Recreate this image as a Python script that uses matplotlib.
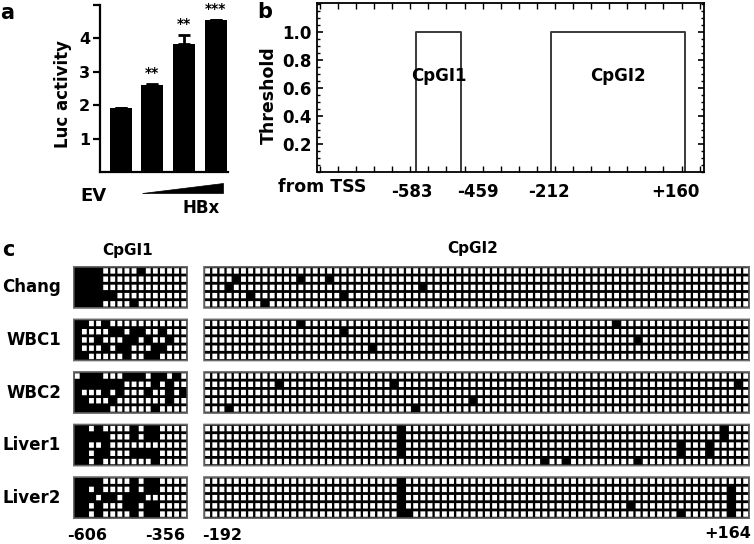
import matplotlib
matplotlib.use('Agg')
import matplotlib.pyplot as plt
from matplotlib.patches import Rectangle, Polygon
from matplotlib.ticker import MultipleLocator
from matplotlib.transforms import ScaledTranslation

plt.rcParams['font.family'] = ['DejaVu Sans']
plt.rcParams['font.weight'] = 'bold'

# ---------------- data ----------------
# panel a
bar_groups = ['EV', 'HBx low', 'HBx mid', 'HBx high']
luc_activity = [1.91, 2.60, 3.84, 4.55]
luc_err = [0.02, 0.02, 0.25, 0.0]
luc_sig = ['', '**', '**', '***']
luc_yticks = [1, 2, 3, 4, 5]
luc_yticklabels = ['1', '2', '3', '4', '']

# panel b
island_names = ['CpGI1', 'CpGI2']
island_start = [-583, -212]
island_end = [-459, 160]
island_threshold = [1.0, 1.0]
tss_ticks = [-583, -459, -212, 160]
tss_labels = ['-583', '-459', '-212', '+160']
thr_ticks = [0.2, 0.4, 0.6, 0.8, 1.0]

# panel c
samples = ['Chang', 'WBC1', 'WBC2', 'Liver1', 'Liver2']
cpgi1_ncols = 16
cpgi2_ncols = 76
cpgi1_patterns = [
    ["1111000001000000",
     "1111000000000000",
     "1111000000000000",
     "1111110000000000",
     "1111000010000000"],
    ["1100100000000000",
     "1000011011001000",
     "1001000110100100",
     "1000101100011000",
     "1100000100110000"],
    ["0111000111011010",
     "1111111000010100",
     "1000101000100101",
     "1100010000000100",
     "1111100000010000"],
    ["1101000010110000",
     "1111100010110000",
     "1100100000000000",
     "1101100011110000",
     "1101000000010000"],
    ["1111000010110000",
     "1101000010110000",
     "1110110111000000",
     "1101000110110000",
     "1101000010110000"],
]
# methylated (row, column) sites in CpGI2
cpgi2_sites = [
    [(1, 4), (2, 3), (3, 6), (4, 8), (1, 13), (1, 17), (3, 19), (2, 30)],
    [(0, 13), (1, 19), (3, 23), (0, 57), (2, 60)],
    [(1, 10), (4, 3), (1, 26), (4, 29), (3, 37), (1, 74)],
    [(0, 27), (1, 27), (2, 27), (3, 27), (0, 72), (1, 72), (2, 66), (3, 66),
     (2, 70), (3, 70), (4, 47), (4, 50), (4, 60)],
    [(0, 27), (1, 27), (2, 27), (3, 27), (4, 27), (4, 28), (3, 59), (4, 66),
     (1, 73), (2, 73), (3, 73), (4, 73)],
]
cpgi1_end_labels = ['-606', '-356']
cpgi2_end_labels = ['-192', '+164']

# ---------------- figure ----------------
W, H = 754, 544
fig = plt.figure(figsize=(W / 100, H / 100), dpi=100)


def fax(x0, y0, x1, y1):
    return fig.add_axes([x0 / W, 1 - y1 / H, (x1 - x0) / W, (y1 - y0) / H])


# ---- panel a ----
axa = fax(100, 5, 228, 172)
xpos = list(range(len(luc_activity)))
axa.bar(xpos, luc_activity, width=0.7, color='black')
axa.errorbar(xpos, luc_activity, yerr=[[0] * len(luc_err), luc_err], fmt='none',
             ecolor='black', elinewidth=2, capsize=4.5, capthick=2)
for x, v, e, s in zip(xpos, luc_activity, luc_err, luc_sig):
    if s:
        axa.annotate(s, (x, v + e), xytext=(0, 3), textcoords='offset points',
                     ha='center', va='bottom', fontsize=10)
axa.set_xlim(-0.65, 3.39)
axa.set_ylim(0, 5)
axa.set_yticks(luc_yticks)
axa.set_yticklabels(luc_yticklabels, fontsize=11.5, fontweight='bold')
axa.set_xticks([])
for sp in ['top', 'right']:
    axa.spines[sp].set_visible(False)
for sp in ['left', 'bottom']:
    axa.spines[sp].set_linewidth(1.6)
axa.tick_params(axis='y', direction='out', length=5, width=1.6, pad=2)
axa.set_ylabel('Luc activity', fontsize=12, fontweight='bold')
axa.yaxis.set_label_coords(-0.22, 0.47)

# ---- panel b ----
axb = fax(317, 3, 704, 172)
for s, e, t in zip(island_start, island_end, island_threshold):
    axb.plot([s, s, e, e], [0, t, t, 0], color='#3a3a3a', lw=1.4)
axb.set_xlim(-858, 212)
axb.set_ylim(0, 1.21)
axb.set_yticks(thr_ticks)
axb.set_yticklabels(['%.1f' % v for v in thr_ticks], fontsize=12, fontweight='bold')
axb.yaxis.set_minor_locator(MultipleLocator(0.05))
axb.set_xticks(tss_ticks)
axb.set_xticklabels(tss_labels, fontsize=12, fontweight='bold')
axb.xaxis.set_minor_locator(MultipleLocator(50))
axb.tick_params(axis='x', which='major', length=0, pad=8)
axb.tick_params(axis='x', which='minor', direction='in', length=4, width=1, top=True, bottom=True)
axb.tick_params(axis='y', which='major', direction='in', length=4, width=1.2, left=True, right=True, pad=4)
axb.tick_params(axis='y', which='minor', direction='in', length=2, width=1, left=True, right=True)
label_shift_px = [-5, 17, -2, -10]
for lab, dx in zip(axb.get_xticklabels(), label_shift_px):
    lab.set_transform(lab.get_transform() + ScaledTranslation(dx / 100, 0, fig.dpi_scale_trans))
for sp in axb.spines.values():
    sp.set_linewidth(1.3)
axb.set_ylabel('Threshold', fontsize=12.5, fontweight='bold')
axb.yaxis.set_label_coords(-0.10, 0.456)
for name, s, e in zip(island_names, island_start, island_end):
    axb.text((s + e) / 2, 0.685, name, ha='center', va='center', fontsize=12, fontweight='bold')

# ---- panel c ----
nrows = 5
period = 6.39
ytot = period * (len(samples) - 1) + nrows
fw, fh = 0.68, 0.66


def draw_grids(ax, matrices, ncols):
    for g, mat in enumerate(matrices):
        y0 = g * period
        ax.add_patch(Rectangle((0, y0), ncols, nrows, facecolor='black',
                               edgecolor='#6a6a6a', lw=1.2, snap=False))
        for r, row in enumerate(mat):
            for c, m in enumerate(row):
                if not m:
                    ax.add_patch(Rectangle((c + (1 - fw) / 2, y0 + r + (1 - fh) / 2), fw, fh,
                                           facecolor='white', edgecolor='none', snap=False))
    ax.set_xlim(-0.1, ncols + 0.1)
    ax.set_ylim(ytot + 0.1, -0.1)
    ax.axis('off')


m1 = [[[ch == '1' for ch in row] for row in rows] for rows in cpgi1_patterns]
m2 = []
for sites in cpgi2_sites:
    mat = [[False] * cpgi2_ncols for _ in range(nrows)]
    for r, c in sites:
        mat[r][c] = True
    m2.append(mat)

axc1 = fax(73, 266, 188, 519)
draw_grids(axc1, m1, cpgi1_ncols)
axc2 = fax(203.3, 266, 750, 519)
draw_grids(axc2, m2, cpgi2_ncols)

# ---- overlay text ----
ov = fig.add_axes([0, 0, 1, 1])
ov.set_xlim(0, W)
ov.set_ylim(H, 0)
ov.axis('off')
ov.patch.set_alpha(0)

ov.text(7, 13, 'a', fontsize=15, ha='center', va='center', fontweight='bold')
ov.text(265, 12, 'b', fontsize=15, ha='center', va='center', fontweight='bold')
ov.text(8, 250, 'c', fontsize=15, ha='center', va='center', fontweight='bold')

ov.text(93, 196, 'EV', fontsize=13, ha='center', va='center', fontweight='bold')
ov.text(201, 208, 'HBx', fontsize=12, ha='center', va='center', fontweight='bold')
ov.add_patch(Polygon([(142, 193), (223, 193), (223, 183)], closed=True,
                     facecolor='black', edgecolor='black', lw=0.5))

ov.text(322, 187, 'from TSS', fontsize=12.5, ha='center', va='center', fontweight='bold')

ov.text(128, 250, 'CpGI1', fontsize=11, ha='center', va='center', fontweight='bold')
ov.text(473, 249, 'CpGI2', fontsize=11, ha='center', va='center', fontweight='bold')

for g, name in enumerate(samples):
    yc = 266 + (g * period + nrows / 2) * (253 / ytot)
    ov.text(61, yc, name, fontsize=12, ha='right', va='center', fontweight='bold')

ov.text(87, 536, cpgi1_end_labels[0], fontsize=11.5, ha='center', va='center', fontweight='bold')
ov.text(165, 536, cpgi1_end_labels[1], fontsize=11.5, ha='center', va='center', fontweight='bold')
ov.text(222, 535, cpgi2_end_labels[0], fontsize=11.5, ha='center', va='center', fontweight='bold')
ov.text(728, 534, cpgi2_end_labels[1], fontsize=11.5, ha='center', va='center', fontweight='bold')

fig.savefig('out.png', dpi=100)
